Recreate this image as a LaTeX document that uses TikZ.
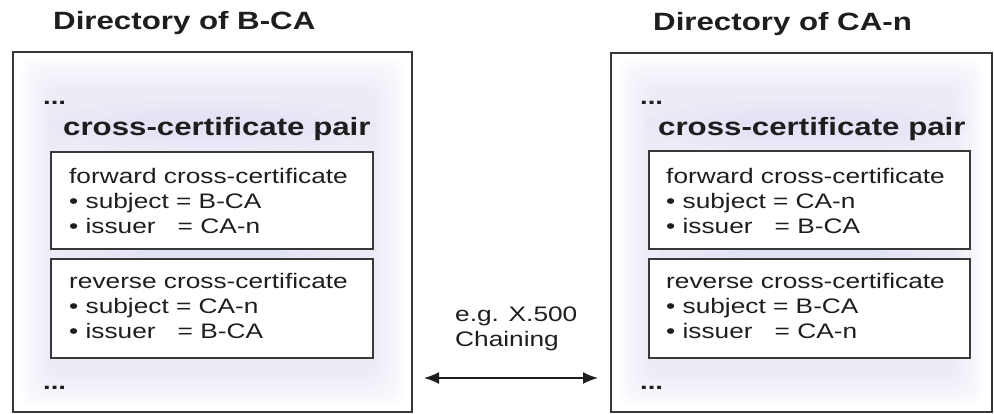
\documentclass[tikz,border=0pt]{standalone}
\usepackage{fontspec}
\setmainfont{Liberation Sans}[FakeStretch=1.25]
\usetikzlibrary{arrows.meta}
\definecolor{ink}{HTML}{1E1E1E}
\definecolor{frame}{HTML}{383838}
\definecolor{glow}{HTML}{DCDCF6}
\newcommand\threelines[3]{\vtop{\baselineskip=25pt\hbox{#1}\hbox{#2}\hbox{#3}}}
\newcommand\twolines[2]{\vtop{\baselineskip=25pt\hbox{#1}\hbox{#2}}}
\tikzset{
  outerbox/.style={draw=frame, line width=2pt},
  certbox/.style={draw=frame, line width=2pt, fill=white},
  dirtitle/.style={font=\bfseries\fontsize{25}{30}\selectfont, text=ink, anchor=base west, inner sep=0pt},
  pairtitle/.style={font=\bfseries\fontsize{25}{30}\selectfont, text=ink, anchor=base west, inner sep=0pt},
  dotsnode/.style={font=\bfseries\fontsize{22}{26}\selectfont, text=ink, anchor=base west, inner sep=0pt},
  bodytext/.style={font=\fontsize{21}{25}\selectfont, text=ink, anchor=base west, inner sep=0pt},
  softglow/.style={fill=glow, opacity=0.07, draw=none},
  link/.style={draw=ink, line width=1.6pt, {Latex[length=15pt,width=12pt]}-{Latex[length=15pt,width=12pt]}}
}
\begin{document}
\begin{tikzpicture}[x=1pt,y=-1pt]
\useasboundingbox (0,0) rectangle (994,413);
\fill[white] (0,0) rectangle (994,413);

% soft glow inside the directories
\foreach \ox/\wx in {13/399, 611/381}{
  \foreach \i in {8,12,16,20,24,28,32,36}{
    \fill[softglow, rounded corners=14pt] (\ox+\i,52+\i) rectangle (\ox+\wx-\i,412-\i);
  }
}
\foreach \cx in {212, 808}{
  \foreach \r in {1.0,0.85,0.7,0.55}{
    \fill[glow, opacity=0.12] (\cx,125) ellipse ({165*\r} and {26*\r});
    \fill[glow, opacity=0.15] (\cx,254) ellipse ({150*\r} and {12*\r});
  }
}

% directories
\node[dirtitle] (titleL) at (53,29) {Directory of B-CA};
\node[dirtitle] (titleR) at (653,30) {Directory of CA-n};
\draw[outerbox] (13,52) rectangle (412,412);
\draw[outerbox] (611,53) rectangle (992,412);

% left content
\node[dotsnode] (dotsLt) at (43,104) {...};
\node[pairtitle] (pairL) at (63,135) {cross-certificate pair};
\draw[certbox] (51,152) rectangle (373,249);
\draw[certbox] (51,259) rectangle (373,358);
\node[bodytext] (fwdL) at (69,183) {\threelines{forward cross-certificate}{• subject = B-CA}{• issuer\hspace{1.05em}= CA-n}};
\node[bodytext] (revL) at (69,288) {\threelines{reverse cross-certificate}{• subject = CA-n}{• issuer\hspace{1.05em}= B-CA}};
\node[dotsnode] (dotsLb) at (43,389) {...};

% right content
\node[dotsnode] (dotsRt) at (640,104) {...};
\node[pairtitle] (pairR) at (658,135) {cross-certificate pair};
\draw[certbox] (649,151) rectangle (970,249);
\draw[certbox] (649,259) rectangle (970,358);
\node[bodytext] (fwdR) at (666,183) {\threelines{forward cross-certificate}{• subject = CA-n}{• issuer\hspace{1.05em}= B-CA}};
\node[bodytext] (revR) at (666,288) {\threelines{reverse cross-certificate}{• subject = B-CA}{• issuer\hspace{1.05em}= CA-n}};
\node[dotsnode] (dotsRb) at (640,389) {...};

% chaining
\node[bodytext] (chain) at (455,321) {\twolines{e.g. X.500}{Chaining}};
\coordinate (aL) at (424,378);
\coordinate (aR) at (598,378);
\draw[link] (aL) -- (aR);
\end{tikzpicture}
\end{document}
